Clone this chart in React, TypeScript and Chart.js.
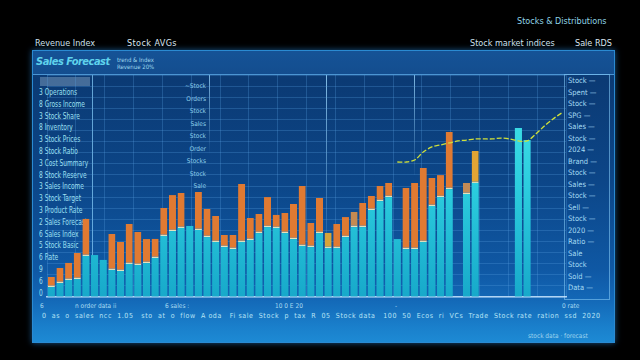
import React, { useEffect, useRef } from "react";
import { Chart, registerables } from "chart.js";

Chart.register(...registerables);

const categories = [
  "1","2","3","4","5","6","7","8","9","10","11","12","13","14","15","16","17","18","19","20",
  "21","22","23","24","25","26","27","28","29","30","31","32","33","34","35","36","37","38","39","40",
  "41","42","43","44","45","46","47","48","49","50","51","52","53","54","55","56","57","58","59","60",
];

const baseValues = [
  4.5, 6.3, 7.7, 8.1, 18.5, 18.9, 16.7, 12.2, 11.7, 14.9,
  14.4, 15.3, 17.6, 27.5, 29.7, 31.1, 32.0, 30.2, 27.0, 24.8,
  22.5, 21.6, 24.8, 25.7, 28.8, 31.5, 31.1, 28.8, 26.1, 23.0,
  22.5, 28.8, 22.1, 22.1, 27.0, 31.5, 31.5, 39.2, 43.2, 45.0,
  26.1, 21.6, 21.6, 24.8, 41.0, 45.0, 48.6, null, 46.4, 51.4,
  null, null, null, null, 76.1, 70.7, null, null, null, null,
];

const topValues = [
  4.5, 6.8, 7.7, 11.7, 16.7, null, null, 16.2, 13.1, 18.0,
  14.9, 10.8, 8.6, 12.6, 16.2, 15.8, null, 17.1, 12.6, 11.7,
  5.4, 6.3, 26.1, 9.9, 8.6, 13.5, 5.9, 9.0, 15.8, 27.0,
  10.8, 15.8, 6.8, 10.8, 9.0, 6.8, 10.8, 6.3, 6.8, 6.3,
  null, 27.5, 29.7, 33.3, 12.6, 9.9, 25.7, null, 5.0, 14.4,
  null, null, null, null, null, null, null, null, null, null,
];

const trendValues = [
  null, null, null, null, null, null, null, null, null, null,
  null, null, null, null, null, null, null, null, null, null,
  null, null, null, null, null, null, null, null, null, null,
  null, null, null, null, null, null, null, null, null, null,
  60.8, 60.8, 61.7, 65.3, 67.6, 68.5, 69.4, 70.3, 70.7, 71.2,
  71.2, 71.2, 71.6, 71.2, 70.3, 70.3, 73.4, 77.0, 80.2, 82.9,
];

const yTicks = { min: 0, max: 100, step: 5 };

const leftLabels = [
  "3 Operations", "8 Gross Income", "3 Stock Share", "8 Inventory", "3 Stock Prices",
  "8 Stock Ratio", "3 Cost Summary", "8 Stock Reserve", "3 Sales Income", "3 Stock Target",
  "3 Product Rate", "2 Sales Forecast", "6 Sales Index", "5 Stock Basic", "6 Rate",
  "9", "6", "0",
];

const midLabels = ["~Stock", "Orders", "Stock", "Sales", "Stock", "Order", "Stocks", "Stock", "Sale"];

const rightLabels = [
  "Stock —", "Spent —", "Stock —", "SPG —", "Sales —", "Stock —", "2024 —", "Brand —",
  "Stock —", "Sales —", "Stock —", "Sell —", "Stock —", "2020 —", "Ratio —", "Sale",
  "Stock", "Sold —", "Data —",
];

const bottomRow1 = [
  { t: "6", x: 40 }, { t: "n order data ii", x: 75 }, { t: "6 sales :", x: 165 },
  { t: "10 0 E 20", x: 275 }, { t: "-", x: 395 }, { t: "0 rate", x: 562 },
];

const bottomRow2 =
  "0  as  o  sales  ncc  1.05   sto  at  o  flow  A oda   Fi sale  Stock  p  tax  R  05  Stock data   100  50  Ecos  ri  VCs  Trade  Stock rate  ration  ssd  2020";

const orangeColors = topValues.map((_, i) =>
  i === 32 ? "#d6a43a" : i === 49 ? "#e2a534" : i === 48 ? "#c38a55" : i === 35 ? "#c48a52" : "#e07a32"
);

const font = "'DejaVu Sans Condensed','Liberation Sans Narrow','Roboto',sans-serif";

export default function App() {
  const ref = useRef<HTMLCanvasElement | null>(null);

  useEffect(() => {
    if (!ref.current) return;
    const tealGrad = (ctx: any) => {
      const chart = ctx.chart;
      const area = chart.chartArea;
      if (!area) return "#1fc0d4";
      const g = chart.ctx.createLinearGradient(0, area.top, 0, area.bottom);
      g.addColorStop(0, "#46e6ea");
      g.addColorStop(0.5, "#2ccdde");
      g.addColorStop(1, "#17a9ca");
      return g;
    };
    const chart = new Chart(ref.current, {
      data: {
        labels: categories,
        datasets: [
          {
            type: "bar",
            label: "Base",
            data: baseValues,
            backgroundColor: tealGrad,
            stack: "s",
            barPercentage: 0.82,
            categoryPercentage: 1,
            order: 2,
          },
          {
            type: "bar",
            label: "Top",
            data: topValues,
            backgroundColor: orangeColors,
            borderColor: "rgba(255,240,190,0.9)",
            borderWidth: { bottom: 1.5, top: 0, left: 0, right: 0 },
            borderSkipped: false,
            stack: "s",
            barPercentage: 0.82,
            categoryPercentage: 1,
            order: 2,
          },
          {
            type: "line",
            label: "Trend",
            data: trendValues,
            borderColor: "#cfe03a",
            borderWidth: 1.3,
            borderDash: [5, 2],
            pointRadius: 0,
            tension: 0.3,
            spanGaps: false,
            order: 1,
          },
        ],
      } as any,
      options: {
        animation: false,
        responsive: false,
        maintainAspectRatio: false,
        layout: { padding: { left: 47, right: 74, top: 75, bottom: 63 } },
        plugins: { legend: { display: false }, tooltip: { enabled: false } },
        scales: {
          x: {
            stacked: true,
            display: true,
            ticks: { display: false },
            grid: { display: false, drawTicks: false },
            border: { display: true, color: "rgba(205,232,255,0.85)", width: 1.5 },
          },
          xg: {
            type: "linear",
            position: "bottom",
            min: 0,
            max: 18,
            display: true,
            ticks: { display: false, stepSize: 1 },
            grid: { display: true, drawTicks: false, color: "rgba(90,160,225,0.28)", lineWidth: 1 },
            border: { display: false },
          },
          y: {
            stacked: true,
            min: yTicks.min,
            max: yTicks.max,
            display: true,
            ticks: { display: false, stepSize: yTicks.step },
            grid: { display: true, drawTicks: false, color: "rgba(90,160,225,0.28)", lineWidth: 1 },
            border: { display: false },
          },
        },
      } as any,
    });
    return () => chart.destroy();
  }, []);

  const abs = (s: React.CSSProperties): React.CSSProperties => ({ position: "absolute", ...s });

  return (
    <div style={{ position: "fixed", left: 0, top: 0, width: 640, height: 360, background: "#000", overflow: "hidden", fontFamily: font }}>
      {/* top texts */}
      <div style={abs({ left: 517, top: 16, fontSize: 9, color: "#8fd3e6", whiteSpace: "nowrap" })}>Stocks &amp; Distributions</div>
      <div style={abs({ left: 35, top: 38, fontSize: 9, color: "#cfe0ee", whiteSpace: "nowrap" })}>Revenue Index</div>
      <div style={abs({ left: 127, top: 38, fontSize: 9, color: "#dde8f2", whiteSpace: "nowrap", letterSpacing: 0.4 })}>Stock AVGs</div>
      <div style={abs({ left: 470, top: 38, fontSize: 9, color: "#cfe0ee", whiteSpace: "nowrap" })}>Stock market indices</div>
      <div style={abs({ left: 575, top: 38, fontSize: 9, color: "#dde8f2", whiteSpace: "nowrap" })}>Sale RDS</div>

      {/* panel */}
      <div
        style={abs({
          left: 32, top: 50, width: 581, height: 291,
          border: "1px solid #2a8ad2",
          boxShadow: "0 0 6px rgba(40,140,230,0.6)",
          background: "linear-gradient(180deg, #0d4382 0%, #0b3a74 10%, #0c4688 45%, #0f58a4 75%, #1367b6 85%, #1a80cc 95%, #1d8ad4 100%)",
        })}
      />
      <div style={abs({ left: 33, top: 51, width: 581, height: 23, background: "rgba(40,120,200,0.30)", borderBottom: "1px solid rgba(100,180,240,0.7)" })} />
      <div style={abs({ left: 36, top: 55, fontSize: 11, color: "#5fd2ec", fontStyle: "italic", fontWeight: 700, whiteSpace: "nowrap", letterSpacing: -0.5 })}>Sales Forecast</div>
      <div style={abs({ left: 117, top: 56, fontSize: 6, color: "#9fd8ee", lineHeight: "7px", whiteSpace: "nowrap" })}>trend &amp; Index<br />Revenue 20%</div>

      {/* left label column */}
      <div style={abs({ left: 35, top: 75, width: 57, height: 218, borderRight: "1px solid rgba(130,200,245,0.75)" })} />
      <div style={abs({ left: 40, top: 77, width: 50, height: 9, background: "rgba(140,170,200,0.45)" })} />
      {leftLabels.map((t, i) => (
        <div key={"l" + i} style={abs({ left: 39, top: 88 + i * 11.8, fontSize: 8, color: "#9fe0f2", whiteSpace: "nowrap", lineHeight: "10px", transform: "scaleX(0.82)", transformOrigin: "left center" })}>{t}</div>
      ))}

      {/* vertical dividers */}
      <div style={abs({ left: 209, top: 75, width: 1, height: 80, background: "linear-gradient(180deg, rgba(150,210,250,0.8), rgba(150,210,250,0))" })} />
      <div style={abs({ left: 326, top: 75, width: 1, height: 170, background: "linear-gradient(180deg, rgba(150,210,250,0.85), rgba(150,210,250,0.1))" })} />
      <div style={abs({ left: 414, top: 75, width: 1, height: 100, background: "linear-gradient(180deg, rgba(150,210,250,0.8), rgba(150,210,250,0.05))" })} />
      {midLabels.map((t, i) => (
        <div key={"m" + i} style={abs({ left: 170, width: 36, textAlign: "right", top: 82 + i * 12.5, fontSize: 6.5, color: "#8fd0ea", whiteSpace: "nowrap" })}>{t}</div>
      ))}

      {/* right legend column */}
      <div style={abs({ left: 564, top: 74, width: 44, height: 224, border: "1px solid rgba(130,200,245,0.6)" })} />
      {rightLabels.map((t, i) => (
        <div key={"r" + i} style={abs({ left: 568, top: 76 + i * 11.5, fontSize: 7.5, color: "#a6dcf4", whiteSpace: "nowrap", lineHeight: "10px" })}>{t}</div>
      ))}

      {/* bottom texts */}
      {bottomRow1.map((b, i) => (
        <div key={"b" + i} style={abs({ left: b.x, top: 302, fontSize: 6.5, color: "#a8dcf2", whiteSpace: "nowrap" })}>{b.t}</div>
      ))}
      <div style={abs({ left: 42, top: 312, fontSize: 7, color: "#b8e4f6", whiteSpace: "pre", letterSpacing: 0.6 })}>{bottomRow2}</div>
      <div style={abs({ left: 528, top: 332, fontSize: 6.5, color: "#9fd4ee", whiteSpace: "nowrap" })}>stock data · forecast</div>

      <canvas ref={ref} width={640} height={360} style={abs({ left: 0, top: 0, width: 640, height: 360 })} />
    </div>
  );
}
